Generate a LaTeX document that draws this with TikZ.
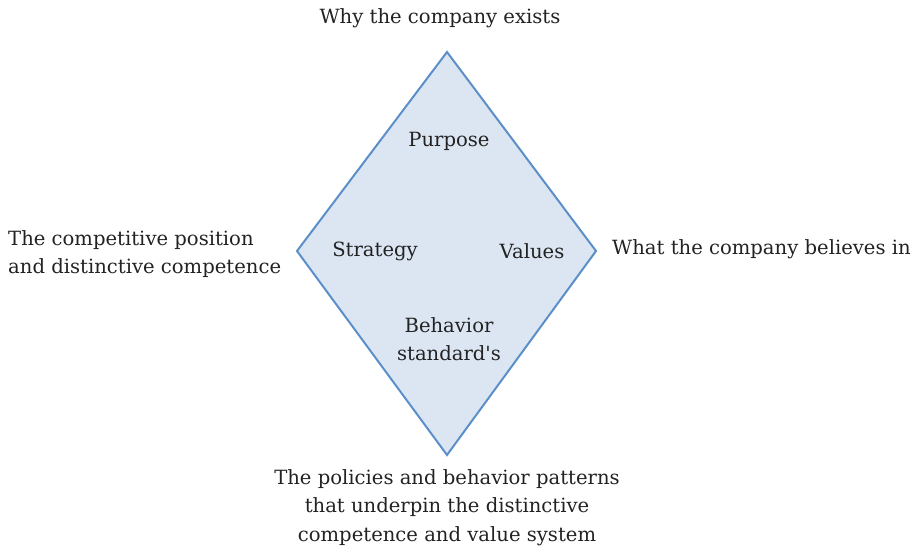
\documentclass[tikz,border=0pt]{standalone}
\usepackage{fontspec}
\setmainfont{DejaVu Serif}
\usetikzlibrary{positioning}
\definecolor{edgeblue}{HTML}{5B8FC9}
\definecolor{fillblue}{HTML}{DCE6F2}
\definecolor{txtgray}{HTML}{222222}

\begin{document}
\begin{tikzpicture}[x=1pt,y=-1pt,
		lbl/.style={text=txtgray,font=\fontsize{19.6}{28.5}\selectfont,inner sep=0pt,align=center},
		sidelbl/.style={lbl,align=left}
		]
	\useasboundingbox (0,0) rectangle (917,552);
	
	\coordinate (T) at (447,52);
	\coordinate (R) at (596,251);
	\coordinate (B) at (447,455);
	\coordinate (L) at (297,251);
	\draw[edgeblue, fill=fillblue, line width=2pt, line join=miter] (T) -- (R) -- (B) -- (L) -- cycle;
	
	\node[lbl] (purpose) at (449,141){Purpose};
	\node[lbl] (strategy) at (375,251){Strategy};
	\node[lbl] (values) at (532,251){Values};
	\node[lbl] (behavior) at (449,339){Behavior\\standard\textquotesingle s};
	
	\node[lbl] (why) at (440,18){Why the company exists};
	\node[sidelbl, anchor=west] (compet) at (8,254){The competitive position\\and distinctive competence};
	\node[sidelbl, anchor=west] (believe) at (612,249){What the company believes in};
	\node[lbl, below=14pt of B] (policies){The policies and behavior patterns\\that underpin the distinctive\\competence and value system};
\end{tikzpicture}
\end{document}
